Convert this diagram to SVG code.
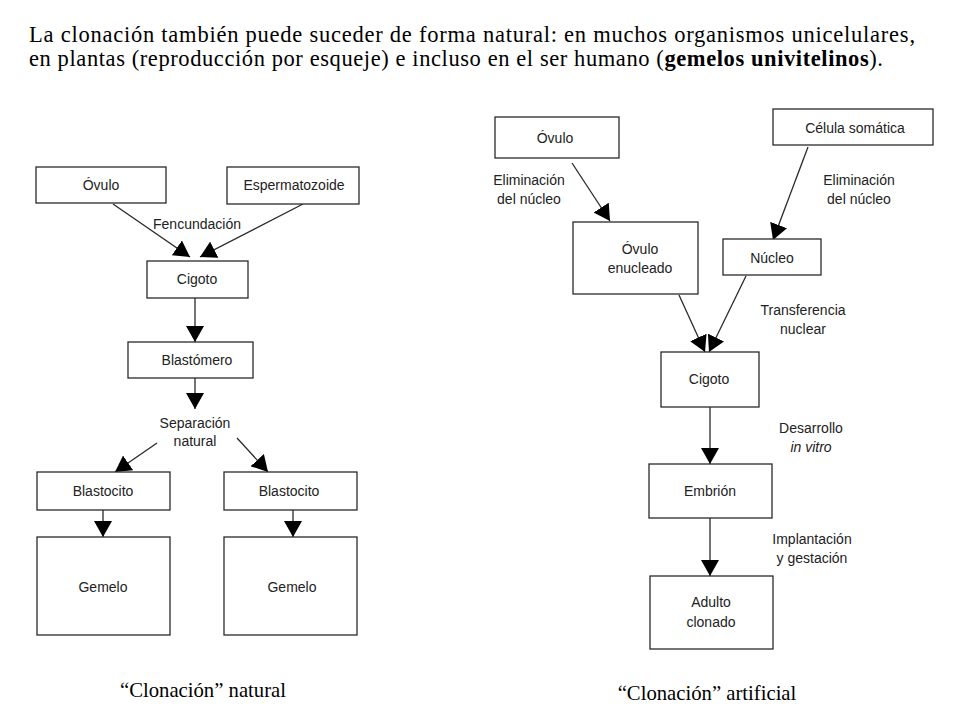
<svg xmlns="http://www.w3.org/2000/svg" width="960" height="720" viewBox="0 0 960 720">
<defs>
<style>
.box{fill:#fff;stroke:#2a2a2a;stroke-width:1.3}
.lbl{font-family:"Liberation Sans","DejaVu Sans",sans-serif;font-size:14px;fill:#222;text-anchor:middle}
.ttl{font-family:"Liberation Serif","Times New Roman",serif;font-size:22.5px;fill:#000}
.cap{font-family:"Liberation Serif","Times New Roman",serif;font-size:20.7px;fill:#000;text-anchor:middle}
.con line{stroke:#2a2a2a;stroke-width:1.3;marker-end:url(#ah)}
</style>
<marker id="ah" markerUnits="userSpaceOnUse" markerWidth="16" markerHeight="18" refX="16" refY="9" orient="auto">
<path d="M0,0 L16,9 L0,18 z" fill="#000"/>
</marker>
</defs>
<rect width="960" height="720" fill="#fff"/>
<g id="title">
<text class="ttl" x="29" y="42" textLength="886" lengthAdjust="spacing">La clonación también puede suceder de forma natural: en muchos organismos unicelulares,</text>
<text class="ttl" x="29" y="66" textLength="854" lengthAdjust="spacing">en plantas (reproducción por esqueje) e incluso en el ser humano (<tspan font-weight="bold">gemelos univitelinos</tspan>).</text>
</g>
<g class="con" id="connectors">
<line x1="113" y1="204" x2="190" y2="257"/>
<line x1="303" y1="204" x2="200" y2="257"/>
<line x1="195" y1="298" x2="195" y2="342"/>
<line x1="195" y1="378" x2="195" y2="409"/>
<line x1="157" y1="443" x2="115" y2="472"/>
<line x1="237" y1="438" x2="268" y2="472"/>
<line x1="103" y1="510" x2="103" y2="537"/>
<line x1="293" y1="510" x2="293" y2="537"/>
<line x1="572" y1="163" x2="610" y2="221"/>
<line x1="808" y1="147" x2="773" y2="240"/>
<line x1="679" y1="295" x2="705" y2="352"/>
<line x1="746" y1="276" x2="709" y2="352"/>
<line x1="710" y1="407" x2="710" y2="464"/>
<line x1="710" y1="518" x2="710" y2="576"/>
</g>
<g id="edge-labels">
<text class="lbl" x="197" y="229">Fencundación</text>
<text class="lbl" x="195" y="428">Separación</text>
<text class="lbl" x="195" y="446">natural</text>
<text class="lbl" x="529" y="185">Eliminación</text>
<text class="lbl" x="529" y="204">del núcleo</text>
<text class="lbl" x="859" y="185">Eliminación</text>
<text class="lbl" x="859" y="204">del núcleo</text>
<text class="lbl" x="803" y="315">Transferencia</text>
<text class="lbl" x="803" y="334">nuclear</text>
<text class="lbl" x="811" y="433">Desarrollo</text>
<text class="lbl" x="811" y="452" font-style="italic">in vitro</text>
<text class="lbl" x="812" y="544">Implantación</text>
<text class="lbl" x="812" y="563">y gestación</text>
</g>
<g id="n-ovulo-l"><rect class="box" x="36" y="167" width="130" height="36"/><text class="lbl" x="101" y="190">Óvulo</text></g>
<g id="n-esperma"><rect class="box" x="227" y="167" width="132" height="37"/><text class="lbl" x="294" y="190">Espermatozoide</text></g>
<g id="n-cigoto-l"><rect class="box" x="147" y="261" width="101" height="37"/><text class="lbl" x="197" y="284">Cigoto</text></g>
<g id="n-blastomero"><rect class="box" x="128" y="342" width="125" height="36"/><text class="lbl" x="197" y="365">Blastómero</text></g>
<g id="n-blastocito-1"><rect class="box" x="37" y="472" width="133" height="38"/><text class="lbl" x="103" y="496">Blastocito</text></g>
<g id="n-blastocito-2"><rect class="box" x="224" y="472" width="133" height="38"/><text class="lbl" x="289" y="496">Blastocito</text></g>
<g id="n-gemelo-1"><rect class="box" x="37" y="537" width="133" height="98"/><text class="lbl" x="103" y="592">Gemelo</text></g>
<g id="n-gemelo-2"><rect class="box" x="224" y="537" width="133" height="98"/><text class="lbl" x="292" y="592">Gemelo</text></g>
<g id="n-ovulo-r"><rect class="box" x="495" y="117" width="124" height="41"/><text class="lbl" x="555" y="143">Óvulo</text></g>
<g id="n-celula"><rect class="box" x="773" y="109" width="160" height="36"/><text class="lbl" x="855" y="133">Célula somática</text></g>
<g id="n-enucleado"><rect class="box" x="573" y="222" width="125" height="72"/><text class="lbl" x="640" y="254">Óvulo</text><text class="lbl" x="640" y="273">enucleado</text></g>
<g id="n-nucleo"><rect class="box" x="723" y="239" width="98" height="36"/><text class="lbl" x="772" y="263">Núcleo</text></g>
<g id="n-cigoto-r"><rect class="box" x="661" y="352" width="98" height="55"/><text class="lbl" x="709" y="384">Cigoto</text></g>
<g id="n-embrion"><rect class="box" x="649" y="464" width="123" height="54"/><text class="lbl" x="710" y="496">Embrión</text></g>
<g id="n-adulto"><rect class="box" x="650" y="576" width="123" height="73"/><text class="lbl" x="711" y="607">Adulto</text><text class="lbl" x="711" y="627">clonado</text></g>
<g id="captions">
<text class="cap" x="203" y="697">“Clonación” natural</text>
<text class="cap" x="707" y="700">“Clonación” artificial</text>
</g>
</svg>
